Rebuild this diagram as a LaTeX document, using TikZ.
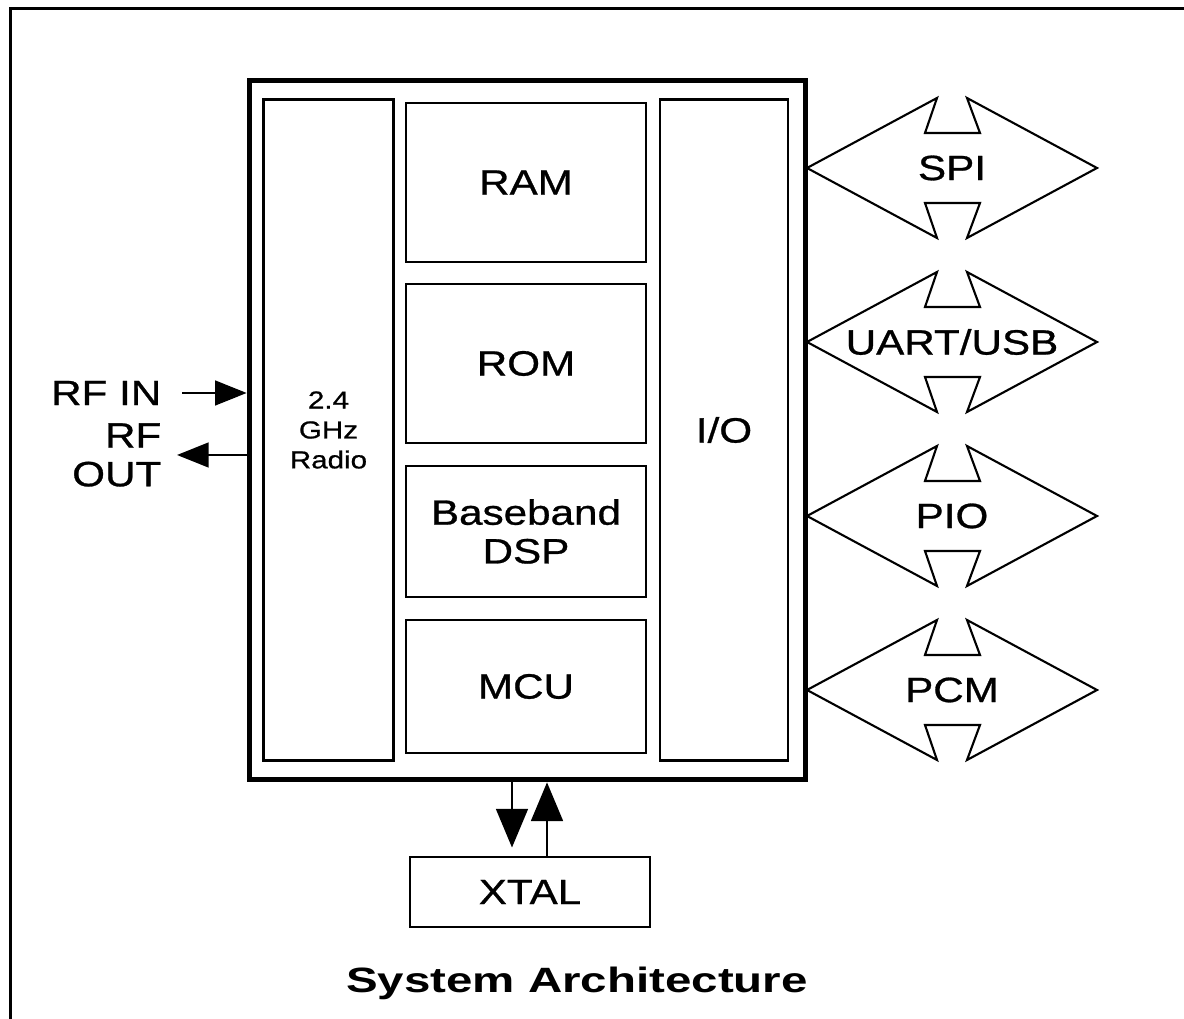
\documentclass[tikz,border=0pt]{standalone}
\usepackage{fontspec}
\setmainfont{Liberation Sans}[FakeStretch=1.2, FakeBold=0.8]
\newfontfamily\captionfont{Liberation Sans}[FakeStretch=1.35]
\usetikzlibrary{arrows.meta}
\tikzset{
	unit/.style={draw, line width=0.8pt, inner sep=0pt, align=center, font=\fontsize{10}{11}\selectfont},
	pin/.style={inner sep=0pt, align=right, font=\fontsize{10}{11}\selectfont},
	sig/.style={line width=0.8pt, -{Triangle[length=9pt,width=7pt]}},
	clk/.style={line width=0.8pt, -{Triangle[length=11pt,width=9pt]}},
	bus/.style={line width=0.6pt, line join=miter}
}
\begin{document}
\begin{tikzpicture}[x=0.01cm, y=-0.01cm]
	\useasboundingbox (0,0) rectangle (1184,1019);
	\draw[line width=0.85pt] (10.5,1019) -- (10.5,8.5) -- (1184,8.5);

	% chip and its blocks
	\node[draw, line width=1.5pt, minimum width=5.56cm, minimum height=6.99cm] (chip) at (527.5,430) {};
	\node[unit, minimum width=1.30cm, minimum height=6.60cm, font=\fontsize{7}{8.5}\selectfont] (radio) at (328.5,430) {2.4\\GHz\\Radio};
	\node[unit, minimum width=2.40cm, minimum height=1.59cm] (ram) at (526,182.5) {RAM};
	\node[unit, minimum width=2.40cm, minimum height=1.59cm] (rom) at (526,363.5) {ROM};
	\node[unit, minimum width=2.40cm, minimum height=1.31cm] (dsp) at (526,531.5) {Baseband\\DSP};
	\node[unit, minimum width=2.40cm, minimum height=1.33cm] (mcu) at (526,686.5) {MCU};
	\node[unit, minimum width=1.28cm, minimum height=6.60cm] (io) at (724,430) {I/O};

	% rf pins
	\node[pin, anchor=east] (rfin) at (162,393) {RF IN};
	\node[pin, anchor=east] (rfout) at (162,455) {RF\\OUT};
	\draw[sig] ([xshift=2mm]rfin.east) -- (rfin.east -| chip.west);
	\draw[sig] (rfout.east -| chip.west) -- ([xshift=1.5mm]rfout.east);

	% crystal
	\node[unit, minimum width=2.40cm, minimum height=0.70cm] (xtal) at (530,892) {XTAL};
	\coordinate (xdn) at ([xshift=-1.8mm]xtal.north);
	\coordinate (xup) at ([xshift=1.7mm]xtal.north);
	\draw[clk, shorten >=0.8mm] (xdn |- chip.south) -- (xdn);
	\draw[clk] (xup) -- (xup |- chip.south);

	% interfaces
	\foreach \y/\lbl in {168/SPI, 342/{UART/USB}, 516/PIO, 690/PCM}
	{
		\draw[bus] (952,\y) +(-145,0) -- +(-15,-70) -- +(-27,-35) -- +(28,-35) -- +(15,-70) -- +(145,0) -- +(15,70) -- +(28,35) -- +(-27,35) -- +(-15,70) -- cycle;
		\node[font=\fontsize{10}{11}\selectfont] (bus\y) at (952,\y) {\lbl};
	}

	\node[font=\captionfont\bfseries\fontsize{10}{12}\selectfont] (title) at (577,983) {System Architecture};
\end{tikzpicture}
\end{document}
